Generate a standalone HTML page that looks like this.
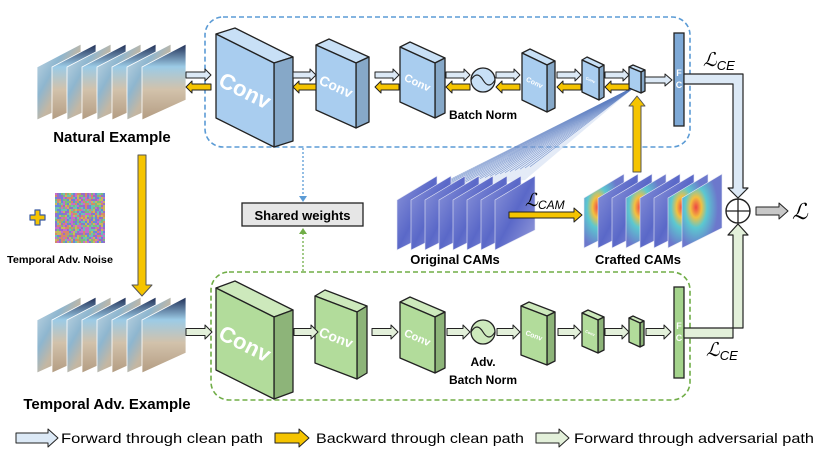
<!DOCTYPE html>
<html><head><meta charset="utf-8"><style>
html,body{margin:0;padding:0;background:#fff;}
svg{display:block;}
text{font-family:"Liberation Sans",Arial,sans-serif;}
</style></head><body>
<svg id="s" width="833" height="458" viewBox="0 0 833 458" xmlns="http://www.w3.org/2000/svg">
<defs>
<linearGradient id="img1" x1="0" y1="0" x2="1" y2="1">
<stop offset="0" stop-color="#c9dbe6"/><stop offset="0.35" stop-color="#8eb6cf"/><stop offset="0.55" stop-color="#c4b7a3"/><stop offset="1" stop-color="#b59e85"/></linearGradient>
<linearGradient id="img2" x1="0" y1="0" x2="0" y2="1">
<stop offset="0" stop-color="#1c2a52"/><stop offset="0.3" stop-color="#9ccbe6"/><stop offset="0.6" stop-color="#d2c2ab"/><stop offset="1" stop-color="#b39c82"/></linearGradient>
<linearGradient id="cam" x1="0" y1="0" x2="1" y2="1">
<stop offset="0" stop-color="#8e97da"/><stop offset="0.5" stop-color="#5a68c8"/><stop offset="1" stop-color="#9aa0dc"/></linearGradient>
<radialGradient id="hot" cx="0.35" cy="0.45" r="0.55">
<stop offset="0" stop-color="#e44"/><stop offset="0.25" stop-color="#f2c040"/><stop offset="0.5" stop-color="#5cc8d0"/><stop offset="1" stop-color="#6c78cc"/></radialGradient>
</defs>
<g id="g"></g>
</svg>
<script>
var o='';
function P(pts,f,st,sw){return '<polygon points="'+pts.map(function(p){return p[0]+','+p[1]}).join(' ')+'" fill="'+f+'" stroke="'+(st||'#222')+'" stroke-width="'+(sw||1.3)+'" stroke-linejoin="round"/>';}
function box(x,y,w,h,s,d,dy,c,lab,fs){
 var fr=[[x,y],[x+w,y+s],[x+w,y+s+h],[x,y+h]];
 var sd=[[x+w,y+s],[x+w+d,y+s-dy],[x+w+d,y+s+h-dy],[x+w,y+s+h]];
 var tp=[[x,y],[x+d,y-dy],[x+w+d,y+s-dy],[x+w,y+s]];
 o+=P(tp,c[2])+P(sd,c[1])+P(fr,c[0]);
 var ang=Math.atan2(s,w)*180/Math.PI;
 o+='<text x="'+(x+w/2)+'" y="'+(y+s/2+h/2+fs*0.35)+'" font-size="'+fs+'" font-weight="bold" fill="#fff" text-anchor="middle" transform="rotate('+ang+' '+(x+w/2)+' '+(y+s/2+h/2)+')">'+lab+'</text>';
}
function ar(x1,x2,y,t,H,L,f,dir){
 var p;
 if(dir<0){p=[[x2,y-t],[x1+L,y-t],[x1+L,y-H],[x1,y],[x1+L,y+H],[x1+L,y+t],[x2,y+t]];}
 else p=[[x1,y-t],[x2-L,y-t],[x2-L,y-H],[x2,y],[x2-L,y+H],[x2-L,y+t],[x1,y+t]];
 o+=P(p,f,'#222',1);
}
function dn(x,y1,y2,t,H,L,f){o+=P([[x-t,y1],[x+t,y1],[x+t,y2-L],[x+H,y2-L],[x,y2],[x-H,y2-L],[x-t,y2-L]],f,'#555',1);}
function up(x,y1,y2,t,H,L,f){o+=P([[x-t,y1],[x+t,y1],[x+t,y2+L],[x+H,y2+L],[x,y2],[x-H,y2+L],[x-t,y2+L]],f,'#555',1);}
var B=['#a9cdef','#86a8c8','#c8e0f6'],G=['#b2dc9b','#8db479','#cde9bc'];
var LB='#dce9f6',Y='#f5c400',LG='#e3f0da';
o+='<rect x="205" y="17" width="485" height="130" rx="18" fill="none" stroke="#5b9bd5" stroke-width="1.6" stroke-dasharray="5,3"/>';
o+='<rect x="211" y="272" width="479" height="128" rx="18" fill="none" stroke="#70ad47" stroke-width="1.6" stroke-dasharray="5,3"/>';
o+='<polygon points="636,86 430,190 525,180" fill="#c4d2ee" opacity="0.45"/>';
for(var i=0;i<22;i++){var tx=425+i*5,ty=192-i*1.2;o+='<line x1="636" y1="86" x2="'+tx+'" y2="'+ty+'" stroke="#5a7cc0" stroke-width="0.6" opacity="0.75"/>';}
function frames(x0,yl){for(var i=0;i<8;i++){var x=x0+i*15;o+='<polygon points="'+x+','+yl+' '+(x+44)+','+(yl-23)+' '+(x+44)+','+(yl+33)+' '+x+','+(yl+53)+'" fill="url(#'+(i%2?'img2':'img1')+')" stroke="#fff" stroke-width="0.8"/>';}}
frames(37,67);frames(37,320);
function cams(x0,yl,hot){for(var i=0;i<8;i++){var x=x0+i*14;o+='<polygon points="'+x+','+yl+' '+(x+40)+','+(yl-24)+' '+(x+40)+','+(yl+30)+' '+x+','+(yl+50)+'" fill="url(#'+(hot&&(i%3==0||i==7)?'hot':'cam')+')" stroke="#e4e6f4" stroke-width="0.6"/>';}}
cams(397,200,false);cams(584,198,true);
var seed=7;function rnd(){seed=(seed*16807)%2147483647;return seed/2147483647;}
var cols=['#c86cc8','#7cbc7c','#6a86d8','#c8b85a','#9a6cc8','#6cc0b4','#d48a6a'];
o+='<rect x="55" y="193" width="50" height="50" fill="#8a8a9a"/>';
for(var a=0;a<25;a++)for(var b=0;b<25;b++)o+='<rect x="'+(55+a*2)+'" y="'+(193+b*2)+'" width="2" height="2" fill="'+cols[Math.floor(rnd()*7)]+'"/>';
o+=P([[30,215],[35,215],[35,210],[40,210],[40,215],[45,215],[45,220],[40,220],[40,225],[35,225],[35,220],[30,220]],Y,'#3a5aa0',1.2);
box(216,34,58,84,29,19,6,B,'Conv',22);
box(316,45,40,65,18,13,6,B,'Conv',14);
box(400,47,35,55,16,10,5,B,'Conv',11);
box(522,53,25,47,12,8,4,B,'Conv',7);
box(582,60,17,32,8,5,3,B,'Conv',4);
box(629,67,12,21,5,4,2,B,'',3);
o+='<circle cx="483" cy="80" r="12" fill="#c8e0f6" stroke="#222" stroke-width="1.3"/><path d="M471,80 Q477,70 483,80 T495,80" fill="none" stroke="#222" stroke-width="1.2"/>';
o+='<rect x="674" y="33" width="10" height="93" fill="#7ea9d6" stroke="#222" stroke-width="1.3"/>';
o+='<text x="679" y="76" font-size="9" fill="#fff" text-anchor="middle" font-weight="bold">F</text><text x="679" y="88" font-size="9" fill="#fff" text-anchor="middle" font-weight="bold">C</text>';
box(216,288,58,82,29,19,7,G,'Conv',22);
box(315,296,42,67,16,10,6,G,'Conv',14);
box(400,302,35,56,15,10,5,G,'Conv',11);
box(521,306,26,49,10,8,4,G,'Conv',7);
box(582,313,16,33,7,6,3,G,'Conv',4);
box(629,318,11,24,5,4,2,G,'',3);
o+='<circle cx="483" cy="332" r="12" fill="#cde9bc" stroke="#222" stroke-width="1.3"/><path d="M471,332 Q477,322 483,332 T495,332" fill="none" stroke="#222" stroke-width="1.2"/>';
o+='<rect x="674" y="287" width="10" height="91" fill="#a4d38c" stroke="#222" stroke-width="1.3"/>';
o+='<text x="679" y="329" font-size="9" fill="#fff" text-anchor="middle" font-weight="bold">F</text><text x="679" y="341" font-size="9" fill="#fff" text-anchor="middle" font-weight="bold">C</text>';
[[186,211],[293,316],[375,399],[446,470],[496,520],[557,581],[605,629]].forEach(function(a){ar(a[0],a[1],75,3,6,6,LB,1);ar(a[0],a[1],87,3,6,6,Y,-1);});
ar(645,672,80,3,6,7,LB,1);
[[186,212],[294,318],[372,398],[447,470],[497,520],[558,581],[605,629],[646,671]].forEach(function(a){ar(a[0],a[1],332,3.5,7,7,LG,1);});
o+=P([[684,74],[743,74],[743,188],[748,188],[738,198],[728,188],[733,188],[733,84],[684,84]],LB,'#222',1.2);
o+=P([[684,328],[743,328],[743,235],[748,235],[738,224],[728,235],[733,235],[733,338],[684,338]],LG,'#222',1.2);
o+='<circle cx="738" cy="211" r="12" fill="#fff" stroke="#222" stroke-width="1.4"/><line x1="726" y1="211" x2="750" y2="211" stroke="#222" stroke-width="1.3"/><line x1="738" y1="199" x2="738" y2="223" stroke="#222" stroke-width="1.3"/>';
ar(756,788,211,4,8,9,'#c8c8c8',1);
o+='<text x="792" y="219" font-size="22" font-family="Liberation Serif,serif" font-style="italic">ℒ</text>';
o+='<text x="703" y="66" font-size="19" font-family="Liberation Serif,serif" font-style="italic">ℒ<tspan font-size="13" dy="4">CE</tspan></text>';
o+='<text x="706" y="356" font-size="19" font-family="Liberation Serif,serif" font-style="italic">ℒ<tspan font-size="13" dy="4">CE</tspan></text>';
dn(142,155,296,4,10,11,Y);
up(637,172,96,4,8,10,Y);
ar(509,582,215,3,7,8,Y,1);
o+='<text x="525" y="206" font-size="18" font-family="Liberation Serif,serif" font-style="italic">ℒ<tspan font-size="12" dy="3">CAM</tspan></text>';
o+='<line x1="303" y1="148" x2="303" y2="196" stroke="#5b9bd5" stroke-width="1.3" stroke-dasharray="2,2"/><polygon points="299,196 307,196 303,202" fill="#5b9bd5"/>';
o+='<line x1="303" y1="271" x2="303" y2="234" stroke="#70ad47" stroke-width="1.3" stroke-dasharray="2,2"/><polygon points="299,234 307,234 303,228" fill="#70ad47"/>';
o+='<rect x="242" y="203" width="121" height="23" fill="#e6e6e6" stroke="#222" stroke-width="1.3"/><text x="302.5" y="220" font-size="13" font-weight="bold" text-anchor="middle">Shared weights</text>';
function T(x,y,s,fs,extra){o+='<text x="'+x+'" y="'+y+'" font-size="'+fs+'" font-weight="bold" text-anchor="middle" '+(extra||'')+'>'+s+'</text>';}
T(112,142,'Natural Example',15);
T(60,263,'Temporal Adv. Noise',10,'textLength="106" lengthAdjust="spacingAndGlyphs"');
T(107,409,'Temporal Adv. Example',15);
T(455,264,'Original CAMs',13);
T(638,264,'Crafted CAMs',13);
T(483,119,'Batch Norm',12);
T(483,366,'Adv.',12);T(483,384,'Batch Norm',12);
ar(16,58,438,5,9,10,LB,1);
o+='<text x="61" y="443" font-size="14" textLength="202" lengthAdjust="spacingAndGlyphs">Forward through clean path</text>';
ar(275,309,438,5,9,10,Y,1);
o+='<text x="316" y="443" font-size="14" textLength="208" lengthAdjust="spacingAndGlyphs">Backward through clean path</text>';
ar(536,569,438,5,9,10,LG,1);
o+='<text x="574" y="443" font-size="14" textLength="240" lengthAdjust="spacingAndGlyphs">Forward through adversarial path</text>';
document.getElementById('g').innerHTML=o;
</script>
</body></html>
